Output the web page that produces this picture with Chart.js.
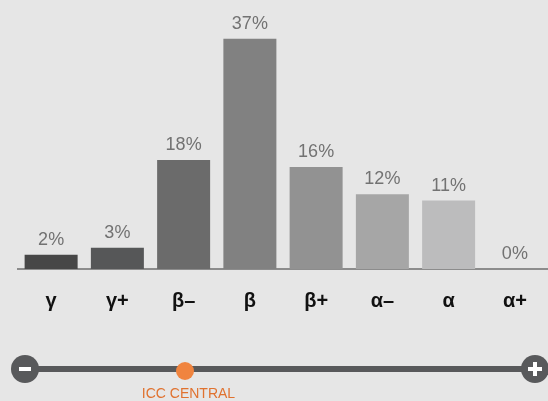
<!DOCTYPE html>
<html>
<head>
<meta charset="utf-8">
<script src="https://cdn.jsdelivr.net/npm/chart.js@4"></script>
<style>
  html, body { margin: 0; padding: 0; background: #e6e6e6; }
  #wrap { position: relative; width: 548px; height: 401px; overflow: hidden; background: #e6e6e6; }
  #c { position: absolute; left: 0; top: 0; }
  .track { position: absolute; left: 25px; top: 366px; width: 510px; height: 6px; background: #58595b; }
  .knob { position: absolute; width: 28px; height: 28px; border-radius: 50%; background: #58595b; top: 354.5px; }
  .knob.l { left: 11px; }
  .knob.r { left: 521px; }
  .bar-h { position: absolute; background: #fff; width: 12px; height: 4px; left: 8px; top: 12px; }
  .bar-v { position: absolute; background: #fff; width: 4px; height: 14px; left: 12px; top: 7px; }
  .bar-h2 { position: absolute; background: #fff; width: 14px; height: 4px; left: 7px; top: 12px; }
  .dot { position: absolute; left: 176px; top: 362px; width: 18px; height: 18px; border-radius: 50%; background: #f0843f; }
  .lbl { position: absolute; left: 100px; width: 177px; text-align: center; top: 385px; font: 14px "Liberation Sans", Arial, sans-serif; color: #e0722f; white-space: nowrap; }
</style>
</head>
<body>
<div id="wrap">
  <canvas id="c" width="548" height="401"></canvas>
  <div class="track"></div>
  <div class="knob l"><div class="bar-h"></div></div>
  <div class="knob r"><div class="bar-h2"></div><div class="bar-v"></div></div>
  <div class="dot"></div>
  <div class="lbl">ICC CENTRAL</div>
</div>
<script>
const categories = ['γ', 'γ+', 'β–', 'β', 'β+', 'α–', 'α', 'α+'];
const values = [2.3, 3.4, 17.5, 37, 16.4, 12, 11, 0];
const barColors = ['#474747', '#565758', '#6b6b6b', '#818181', '#929292', '#a6a6a6', '#bcbcbd', '#cccccc'];

const valueLabels = {
  id: 'valueLabels',
  afterDatasetsDraw(chart) {
    const ctx = chart.ctx;
    const meta = chart.getDatasetMeta(0);
    ctx.save();
    ctx.font = '18px "Liberation Sans", Arial, sans-serif';
    ctx.fillStyle = '#727272';
    ctx.textAlign = 'center';
    ctx.textBaseline = 'alphabetic';
    meta.data.forEach((bar, i) => {
      ctx.fillText(Math.round(values[i]) + '%', bar.x, bar.y - 10);
    });
    ctx.restore();
  }
};

new Chart(document.getElementById('c'), {
  type: 'bar',
  data: {
    labels: categories,
    datasets: [{
      data: values,
      backgroundColor: barColors,
      borderWidth: 0,
      barPercentage: 0.8,
      categoryPercentage: 1.0
    }]
  },
  options: {
    responsive: false,
    animation: false,
    events: [],
    layout: { padding: { left: 18, right: 0, top: 20, bottom: 68 } },
    plugins: { legend: { display: false }, tooltip: { enabled: false } },
    scales: {
      x: {
        grid: { display: false, drawTicks: false },
        border: { display: true, color: '#8c8c8c', width: 2 },
        ticks: {
          padding: 20,
          color: '#111',
          font: { family: '"Liberation Sans", Arial, sans-serif', size: 20, weight: 'bold' }
        }
      },
      y: {
        display: false,
        min: 0,
        max: 40
      }
    }
  },
  plugins: [valueLabels]
});
</script>
</body>
</html>
